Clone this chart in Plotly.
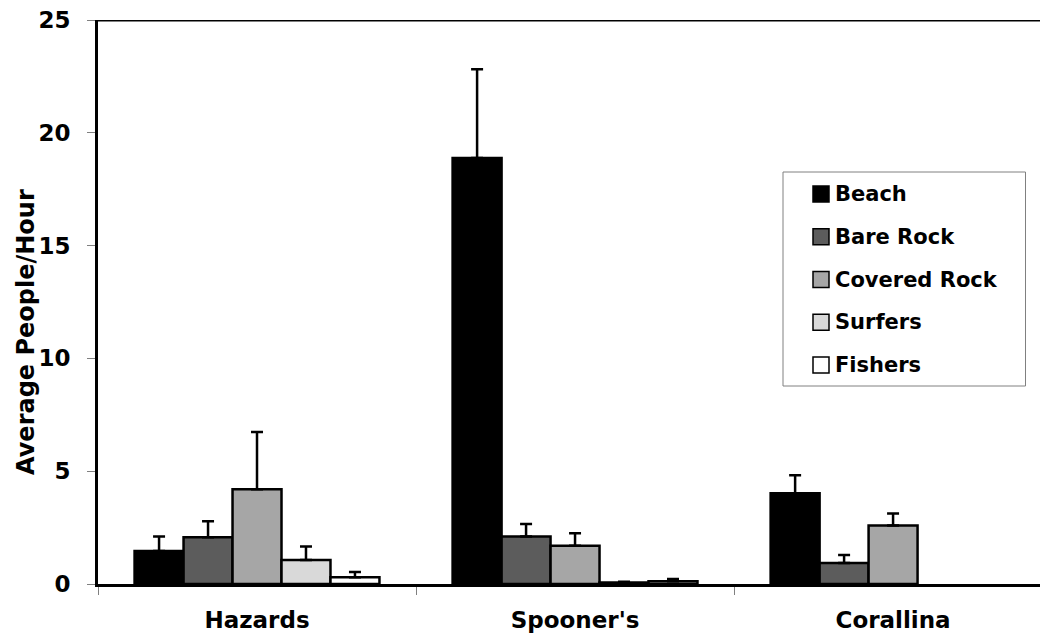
import plotly.graph_objects as go

# Sites along the x axis
sites = ["Hazards", "Spooner's", "Corallina"]

# Mean people per hour for each user group, per site
beach = [1.46, 18.88, 4.02]
bare_rock = [2.07, 2.10, 0.93]
covered_rock = [4.20, 1.70, 2.59]
surfers = [1.06, 0.07, None]
fishers = [0.30, 0.12, None]

# Upper error (standard error) for each group, per site
beach_err = [0.64, 3.94, 0.80]
bare_rock_err = [0.71, 0.56, 0.36]
covered_rock_err = [2.54, 0.55, 0.53]
surfers_err = [0.60, 0.03, None]
fishers_err = [0.23, 0.10, None]

series = [
    ("Beach", beach, beach_err, "#000000"),
    ("Bare Rock", bare_rock, bare_rock_err, "#5c5c5c"),
    ("Covered Rock", covered_rock, covered_rock_err, "#a6a6a6"),
    ("Surfers", surfers, surfers_err, "#d9d9d9"),
    ("Fishers", fishers, fishers_err, "#ffffff"),
]

Y_TITLE = "Average People/Hour"

FONT = "DejaVu Sans"
W, H = 1040, 636
M_L, M_R, M_T, M_B = 98, 0, 20, 52
PLOT_W = W - M_L - M_R
PLOT_H = H - M_T - M_B


def px_x(px):
    """Page pixel column -> paper x."""
    return (px - M_L) / PLOT_W


def px_y(py):
    """Page pixel row -> paper y."""
    return (H - M_B - py) / PLOT_H


fig = go.Figure()
for name, vals, errs, color in series:
    fig.add_trace(go.Bar(
        name=name,
        x=sites,
        y=vals,
        showlegend=False,
        marker=dict(color=color, line=dict(color="#000000", width=2.5)),
        error_y=dict(type="data", array=errs, symmetric=False,
                     arrayminus=[0] * len(errs),
                     color="#000000", thickness=2.5, width=6),
    ))

# Legend box with a swatch and label per series
LEG_LEFT, LEG_RIGHT, LEG_TOP, LEG_BOTTOM = 783, 1025.5, 172, 386
ROW0, ROW_STEP = 194, 42.75
SW_LEFT, SW_SIZE, TXT_LEFT = 813, 16, 833

fig.add_shape(type="rect", xref="paper", yref="paper",
              x0=px_x(LEG_LEFT), x1=px_x(LEG_RIGHT),
              y0=px_y(LEG_BOTTOM), y1=px_y(LEG_TOP),
              fillcolor="#ffffff", line=dict(color="#808080", width=1),
              layer="above")
for i, (name, _, _, color) in enumerate(series):
    cy = ROW0 + i * ROW_STEP
    fig.add_shape(type="rect", xref="paper", yref="paper",
                  x0=px_x(SW_LEFT), x1=px_x(SW_LEFT + SW_SIZE),
                  y0=px_y(cy + SW_SIZE / 2), y1=px_y(cy - SW_SIZE / 2),
                  fillcolor=color, line=dict(color="#000000", width=1.5),
                  layer="above")
    fig.add_annotation(xref="paper", yref="paper",
                       x=px_x(TXT_LEFT), y=px_y(cy),
                       xanchor="left", yanchor="middle",
                       text=name, showarrow=False,
                       font=dict(family=FONT, size=21, weight="bold",
                                 color="#000000"))

# Value-axis title, sitting a little below the middle of the axis
fig.add_annotation(xref="paper", yref="paper",
                   x=px_x(26), y=px_y(332),
                   xanchor="center", yanchor="middle",
                   text=Y_TITLE, textangle=-90, showarrow=False,
                   font=dict(family=FONT, size=24, weight="bold",
                             color="#000000"))

fig.update_layout(
    width=W,
    height=H,
    margin=dict(l=M_L, r=M_R, t=M_T, b=M_B),
    paper_bgcolor="#ffffff",
    plot_bgcolor="#ffffff",
    barmode="group",
    bargap=0.23,
    bargroupgap=0,
    font=dict(family=FONT, color="#000000", weight="bold"),
    showlegend=False,
    xaxis=dict(
        type="category",
        range=[-0.5, 2.462],
        showline=True,
        linecolor="#000000",
        linewidth=3,
        ticks="outside",
        tickson="boundaries",
        ticklen=8,
        tickwidth=1,
        tickcolor="#808080",
        ticklabelstandoff=13,
        tickfont=dict(family=FONT, size=23, weight="bold"),
        showgrid=False,
        zeroline=False,
    ),
    yaxis=dict(
        range=[0, 25],
        tickvals=[0, 5, 10, 15, 20, 25],
        showline=True,
        linecolor="#000000",
        linewidth=3,
        ticks="outside",
        ticklen=8,
        tickwidth=1,
        tickcolor="#808080",
        ticklabelstandoff=12,
        tickfont=dict(family=FONT, size=23, weight="bold"),
        showgrid=False,
        zeroline=False,
    ),
)

# Upper frame line at the top of the value range
fig.add_shape(type="line", xref="paper", x0=0, x1=1, yref="y", y0=25, y1=25,
              line=dict(color="#000000", width=3))

fig.write_html("out.html")
